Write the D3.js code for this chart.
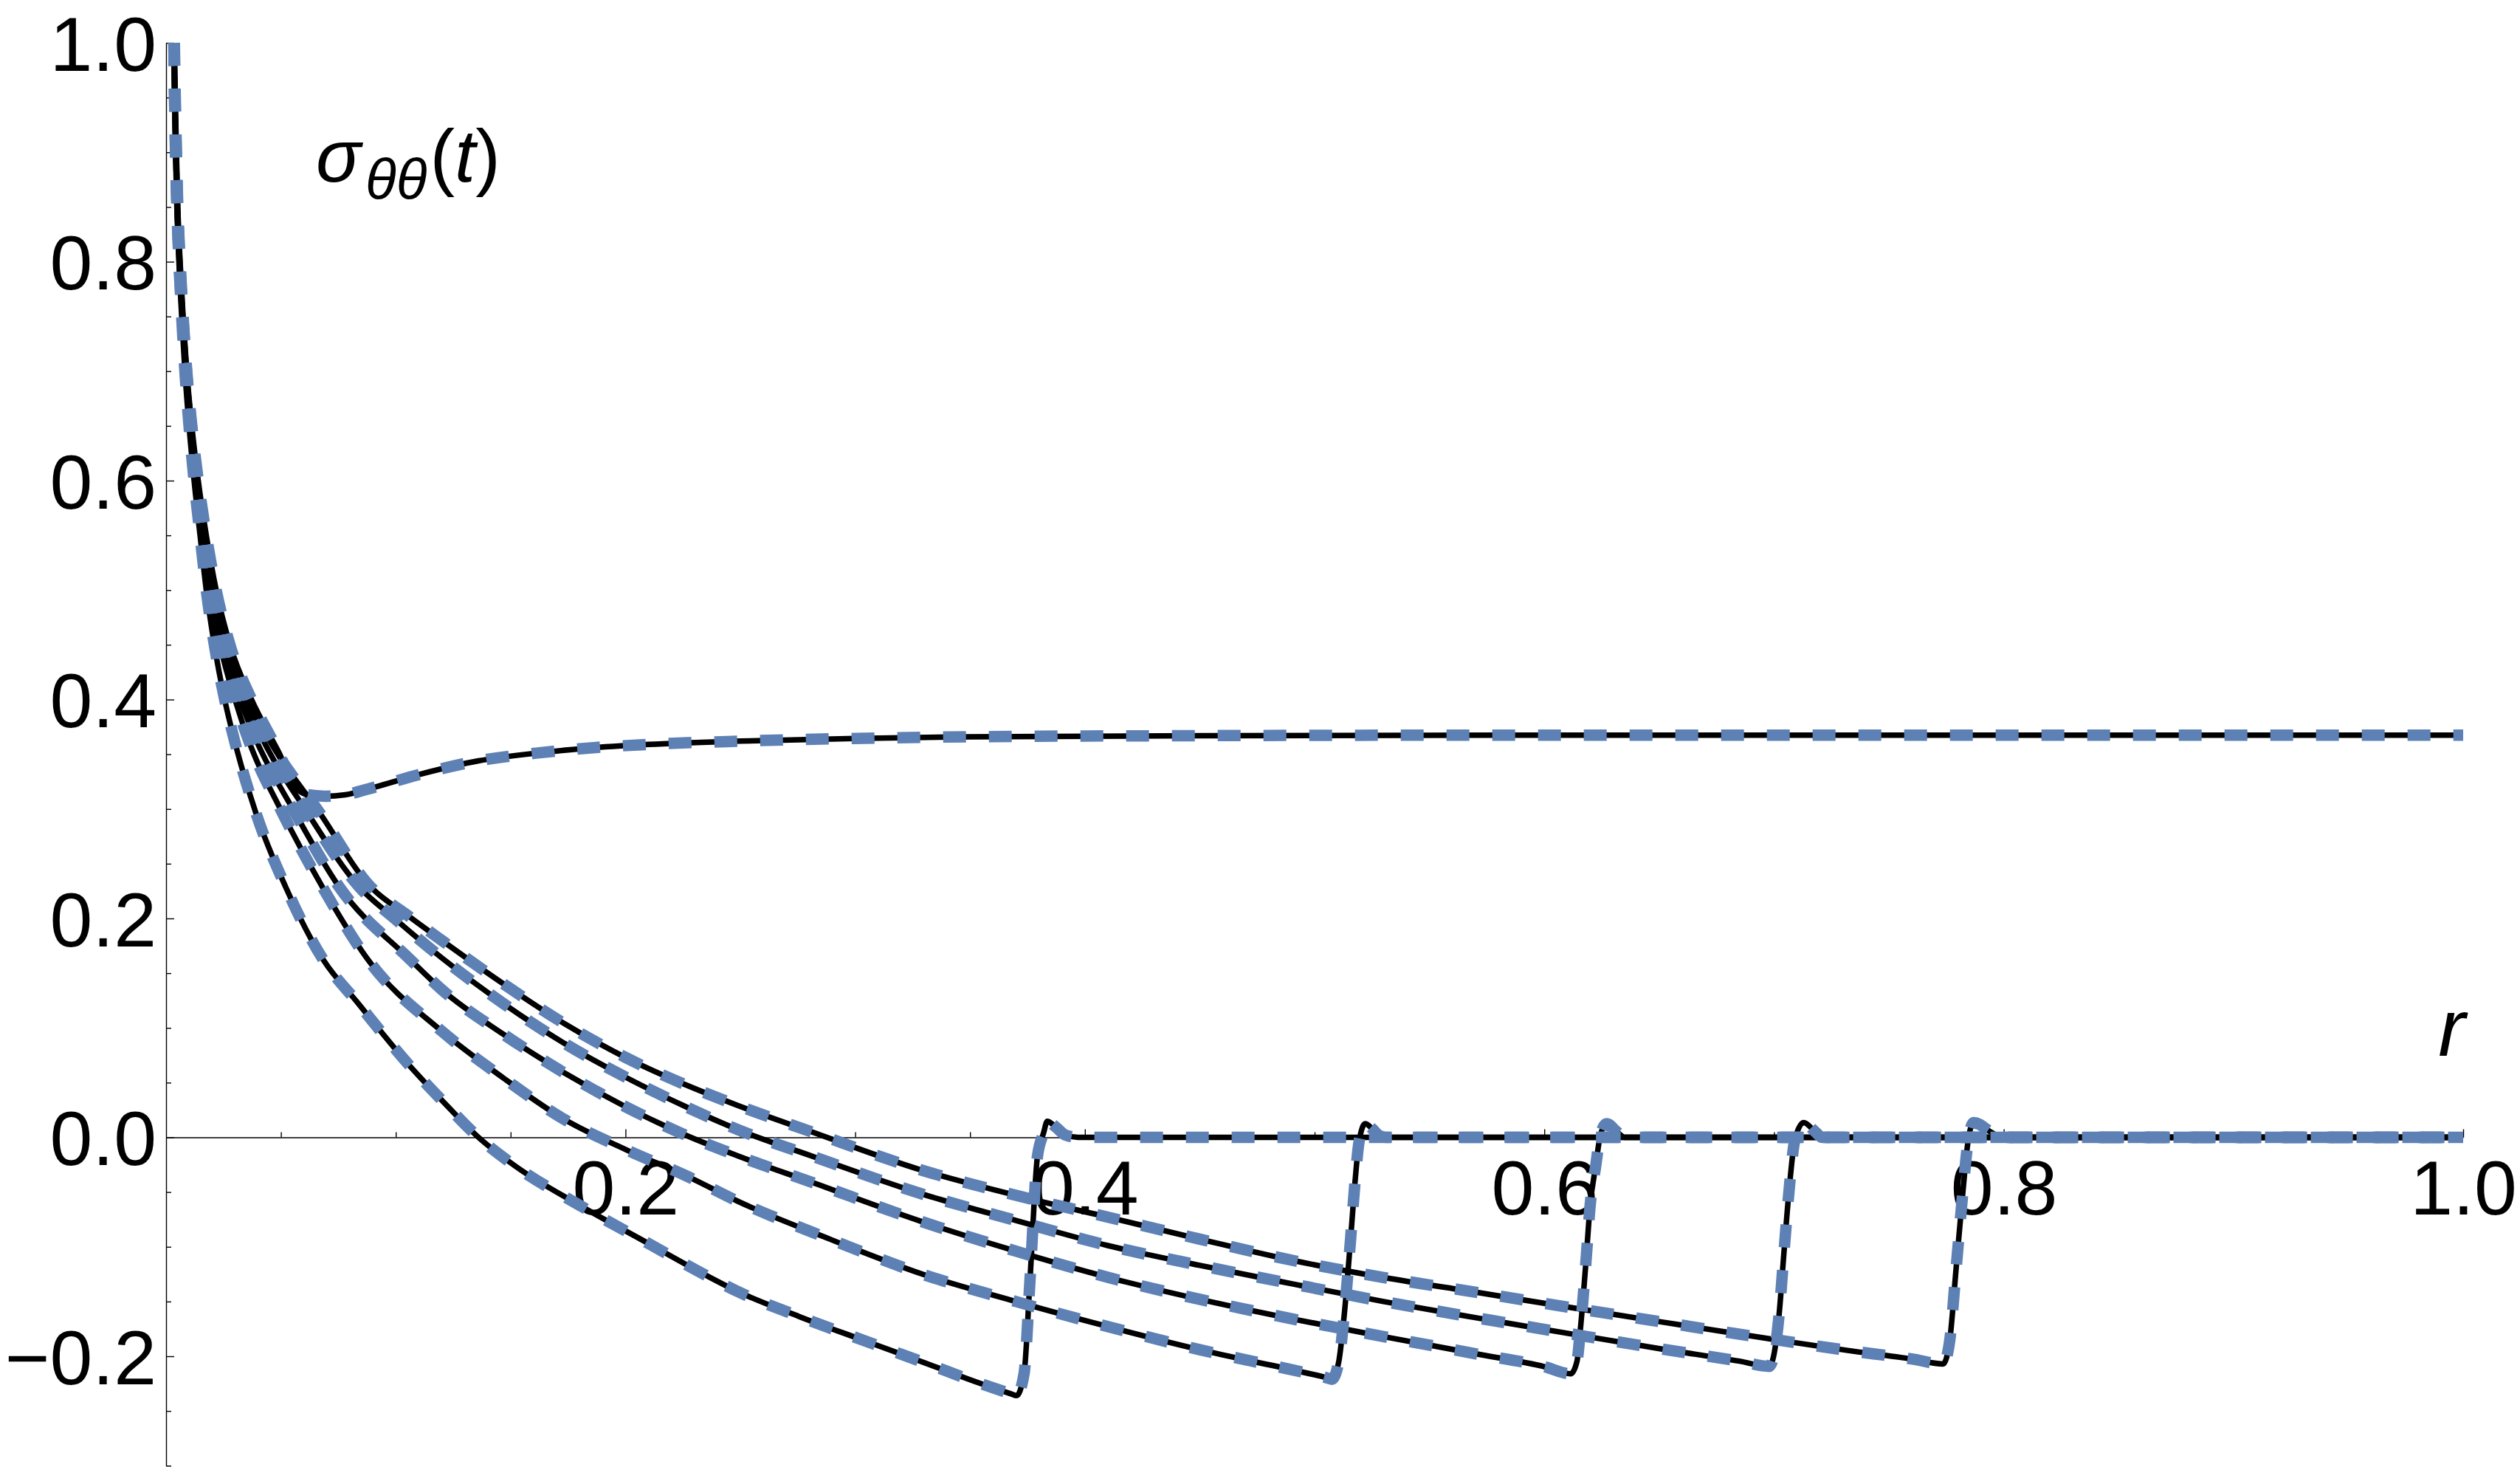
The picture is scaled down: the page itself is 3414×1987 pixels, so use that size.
<!DOCTYPE html>
<html><head><meta charset="utf-8">
<script src="https://cdn.jsdelivr.net/npm/d3@7"></script>
<style>html,body{margin:0;padding:0;background:#fff;} svg{display:block;}</style>
</head><body>
<svg id="chart" width="3414" height="1987"></svg>
<script>
// ---- data: [r, sigma_thetatheta] ----
const curveSteady = [[0.0036,1.00],[0.0040,0.95],[0.0045,0.90],[0.0051,0.85],[0.0061,0.80],[0.0074,0.75],[0.0090,0.70],[0.0112,0.65],[0.0140,0.60],[0.0175,0.55],[0.0218,0.50],[0.0278,0.45],[0.0372,0.40],[0.0460,0.364],[0.0495,0.350],[0.0544,0.325],[0.0617,0.313],[0.0690,0.3117],[0.0780,0.313],[0.0875,0.318],[0.1110,0.332],[0.1360,0.344],[0.1610,0.351],[0.1830,0.3555],[0.2100,0.359],[0.2500,0.362],[0.3000,0.3645],[0.3500,0.366],[0.4500,0.367],[0.6000,0.3675],[0.8000,0.3675],[1.0000,0.3675]];

const curveT1 = [[0.0034,1.00],[0.0037,0.95],[0.0041,0.90],[0.0047,0.85],[0.0056,0.80],[0.0068,0.75],[0.0082,0.70],[0.0100,0.65],[0.0122,0.60],[0.0148,0.55],[0.0175,0.50],[0.0210,0.45],[0.0255,0.40],[0.0296,0.364],[0.0390,0.297],[0.0520,0.229],[0.0685,0.162],[0.0830,0.124],[0.1058,0.066],[0.1200,0.034],[0.1360,0.000],[0.1525,-0.027],[0.1800,-0.062],[0.2100,-0.097],[0.2350,-0.126],[0.2490,-0.141],[0.2760,-0.164],[0.3030,-0.185],[0.3290,-0.205],[0.3560,-0.226],[0.3680,-0.2345],[0.3702,-0.2360],[0.3735,-0.216],[0.3761,-0.130],[0.3793,-0.018],[0.3820,0.004],[0.3836,0.0146],[0.3870,0.010],[0.3916,0.002],[0.3970,0.000],[1.0000,0.000]];

const curveT2 = [[0.0034,1.00],[0.0037,0.95],[0.0042,0.90],[0.0048,0.85],[0.0057,0.80],[0.0070,0.75],[0.0085,0.70],[0.0104,0.65],[0.0128,0.60],[0.0157,0.55],[0.0190,0.50],[0.0235,0.45],[0.0300,0.40],[0.0357,0.364],[0.0505,0.297],[0.0680,0.229],[0.0880,0.162],[0.1200,0.097],[0.1470,0.054],[0.1737,0.016],[0.2000,-0.011],[0.2273,-0.036],[0.2490,-0.0585],[0.2890,-0.093],[0.3290,-0.1248],[0.3700,-0.150],[0.4102,-0.173],[0.4500,-0.194],[0.4906,-0.2126],[0.5050,-0.2195],[0.5075,-0.2210],[0.5105,-0.205],[0.5129,-0.162],[0.5156,-0.0945],[0.5177,-0.038],[0.5193,-0.0045],[0.5220,0.0124],[0.5250,0.008],[0.5279,0.002],[0.5310,0.000],[1.0000,0.000]];

const curveT3 = [[0.0034,1.00],[0.0038,0.95],[0.0042,0.90],[0.0048,0.85],[0.0058,0.80],[0.0071,0.75],[0.0086,0.70],[0.0106,0.65],[0.0131,0.60],[0.0162,0.55],[0.0198,0.50],[0.0248,0.45],[0.0322,0.40],[0.0390,0.364],[0.0560,0.297],[0.0753,0.229],[0.1065,0.162],[0.1200,0.135],[0.1470,0.094],[0.1737,0.0585],[0.2000,0.028],[0.2273,0.001],[0.2490,-0.017],[0.2810,-0.041],[0.3290,-0.077],[0.3700,-0.104],[0.4102,-0.128],[0.4500,-0.148],[0.4906,-0.166],[0.5300,-0.182],[0.5708,-0.198],[0.6000,-0.2095],[0.6115,-0.2160],[0.6142,-0.2047],[0.6158,-0.173],[0.6180,-0.117],[0.6200,-0.061],[0.6223,-0.027],[0.6244,0.002],[0.6271,0.0124],[0.6319,0.0045],[0.6350,0.000],[1.0000,0.000]];

const curveT4 = [[0.0035,1.00],[0.0038,0.95],[0.0043,0.90],[0.0049,0.85],[0.0059,0.80],[0.0072,0.75],[0.0088,0.70],[0.0108,0.65],[0.0134,0.60],[0.0167,0.55],[0.0205,0.50],[0.0260,0.45],[0.0342,0.40],[0.0420,0.364],[0.0614,0.297],[0.0840,0.229],[0.1000,0.199],[0.1200,0.164],[0.1470,0.122],[0.1737,0.0855],[0.2000,0.055],[0.2273,0.027],[0.2490,0.007],[0.2810,-0.017],[0.3290,-0.0517],[0.3700,-0.076],[0.4102,-0.099],[0.4500,-0.117],[0.4906,-0.134],[0.5300,-0.150],[0.5708,-0.165],[0.6100,-0.179],[0.6512,-0.1934],[0.6850,-0.2045],[0.6979,-0.2092],[0.7000,-0.198],[0.7022,-0.162],[0.7043,-0.1057],[0.7065,-0.0495],[0.7091,-0.002],[0.7129,0.0135],[0.7177,0.0056],[0.7210,0.000],[1.0000,0.000]];

const curveT5 = [[0.0035,1.00],[0.0039,0.95],[0.0044,0.90],[0.0050,0.85],[0.0060,0.80],[0.0073,0.75],[0.0089,0.70],[0.0110,0.65],[0.0137,0.60],[0.0171,0.55],[0.0212,0.50],[0.0270,0.45],[0.0360,0.40],[0.0447,0.364],[0.0667,0.297],[0.0890,0.229],[0.1050,0.203],[0.1200,0.180],[0.1470,0.140],[0.1737,0.1035],[0.2000,0.073],[0.2273,0.047],[0.2490,0.029],[0.2810,0.005],[0.3290,-0.030],[0.3700,-0.053],[0.4102,-0.073],[0.4500,-0.093],[0.4906,-0.1125],[0.5300,-0.128],[0.5708,-0.1417],[0.6100,-0.155],[0.6512,-0.1687],[0.6994,-0.1845],[0.7315,-0.1945],[0.7600,-0.2025],[0.7736,-0.2070],[0.7764,-0.187],[0.7793,-0.119],[0.7822,-0.050],[0.7845,-0.003],[0.7869,0.0135],[0.7947,0.0045],[0.7990,0.000],[1.0000,0.000]];

const xTickValues = [0.2, 0.4, 0.6, 0.8, 1.0];
const yTickValues = [-0.2, 0.0, 0.2, 0.4, 0.6, 0.8, 1.0];
const xDomain = [0, 1];
const yDomain = [-0.3, 1.0];

// ---- layout ----
const svg = d3.select('#chart');
const x = d3.scaleLinear().domain(xDomain).range([225, 3337]);
const y = d3.scaleLinear().domain(yDomain).range([1985.25, 58]);
const FONT = '"Liberation Sans", Arial, Helvetica, sans-serif';
const fmt = d3.format('.1f');

const minorX = d3.range(1, 21).map(i => i * 0.05).filter(v => !xTickValues.some(t => Math.abs(t - v) < 1e-9));
const minorY = d3.range(-6, 21).map(i => i * 0.05).filter(v => !yTickValues.some(t => Math.abs(t - v) < 1e-9));

function styleAxis(g) {
  g.selectAll('path.domain').attr('stroke', '#000').attr('stroke-width', 1.4);
  g.selectAll('.tick line').attr('stroke', '#000').attr('stroke-width', 1.4);
  g.selectAll('.tick text').attr('fill', '#000').attr('font-family', FONT).attr('font-size', 104);
}

// y axis (left, ticks pointing into the plot)
const gy = svg.append('g').attr('transform', `translate(${x(0)},0)`)
  .call(d3.axisLeft(y).tickValues(yTickValues).tickSizeInner(-11).tickSizeOuter(0).tickPadding(13).tickFormat(fmt));
gy.call(styleAxis);
gy.selectAll('.tick text').attr('dy', '0.36em');
const gyMinor = svg.append('g').attr('transform', `translate(${x(0)},0)`)
  .call(d3.axisLeft(y).tickValues(minorY).tickSizeInner(-7).tickSizeOuter(0).tickFormat(''));
gyMinor.select('path.domain').remove();
gyMinor.call(styleAxis);

// x axis at y = 0 (ticks pointing up, labels below)
const gx = svg.append('g').attr('transform', `translate(0,${y(0)})`)
  .call(d3.axisBottom(x).tickValues(xTickValues).tickSizeInner(-11).tickSizeOuter(0).tickPadding(31).tickFormat(fmt));
gx.call(styleAxis);
const gxMinor = svg.append('g').attr('transform', `translate(0,${y(0)})`)
  .call(d3.axisBottom(x).tickValues(minorX).tickSizeInner(-7).tickSizeOuter(0).tickFormat(''));
gxMinor.select('path.domain').remove();
gxMinor.call(styleAxis);

// axis labels
svg.append('text').attr('x', 3340).attr('y', 1430).attr('text-anchor', 'end')
  .attr('font-family', FONT).attr('font-size', 110).attr('font-style', 'italic').text('r');

const lab = svg.append('text').attr('x', 428).attr('y', 246)
  .attr('font-family', FONT).attr('font-size', 101).attr('fill', '#000');
lab.append('tspan').attr('font-style', 'italic').text('σ');
lab.append('tspan').attr('font-style', 'italic').attr('font-size', 77).attr('dx', 6).attr('dy', 24).text('θθ');
lab.append('tspan').attr('dy', -24).attr('dx', 4).text('(');
lab.append('tspan').attr('font-style', 'italic').text('t');
lab.append('tspan').text(')');

// ---- curves ----
const series = [curveSteady, curveT1, curveT2, curveT3, curveT4, curveT5];
const line = d3.line().x(d => x(d[0])).y(d => y(d[1])).curve(d3.curveMonotoneX);

const plot = svg.append('g');
plot.selectAll('path.exact').data(series).join('path')
  .attr('class', 'exact').attr('d', line)
  .attr('fill', 'none').attr('stroke', '#000').attr('stroke-width', 7.5)
  .attr('stroke-linejoin', 'round');
plot.selectAll('path.numeric').data(series).join('path')
  .attr('class', 'numeric').attr('d', line)
  .attr('fill', 'none').attr('stroke', '#5E81B5').attr('stroke-width', 15.5)
  .attr('stroke-dasharray', '31,31').attr('stroke-linecap', 'butt');
</script>
</body></html>
